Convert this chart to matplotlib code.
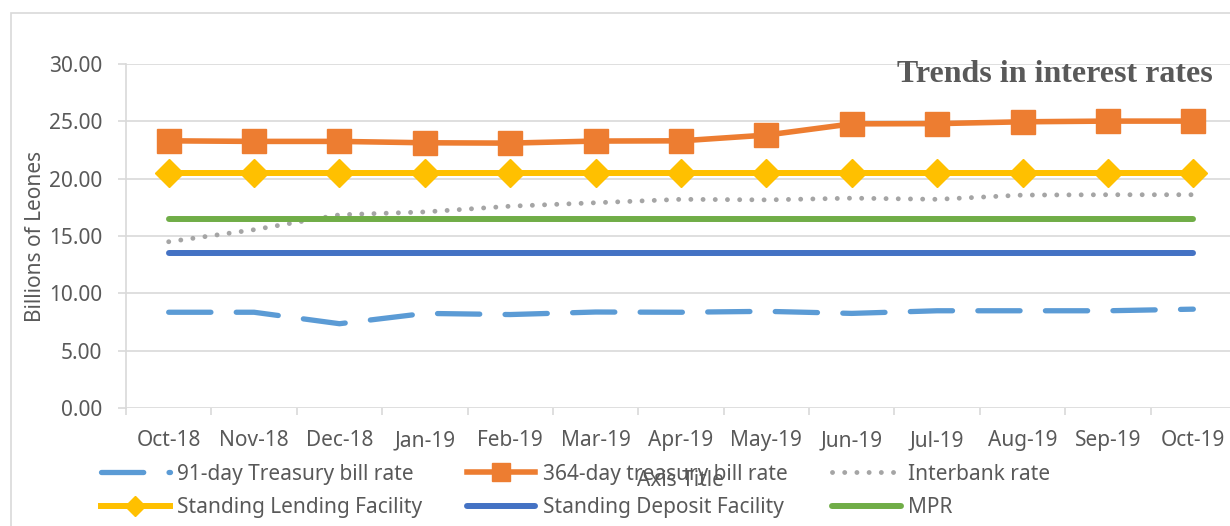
import matplotlib
matplotlib.use("Agg")
import matplotlib.pyplot as plt
from matplotlib.patches import Rectangle

months = ["Oct-18", "Nov-18", "Dec-18", "Jan-19", "Feb-19", "Mar-19", "Apr-19",
          "May-19", "Jun-19", "Jul-19", "Aug-19", "Sep-19", "Oct-19"]
tbill_91 = [8.35, 8.35, 7.35, 8.25, 8.15, 8.37, 8.35, 8.43, 8.25, 8.48, 8.48, 8.48, 8.62]
tbill_364 = [23.3, 23.25, 23.25, 23.13, 23.1, 23.28, 23.3, 23.8, 24.78, 24.8, 24.96, 25.02, 25.02]
interbank = [14.5, 15.55, 16.85, 17.1, 17.6, 17.9, 18.2, 18.15, 18.3, 18.2, 18.57, 18.6, 18.6]
slf = [20.5] * 13
sdf = [13.5] * 13
mpr = [16.5] * 13
yticks = [0, 5, 10, 15, 20, 25, 30]

W, H = 1230, 526
fig = plt.figure(figsize=(W / 100, H / 100), dpi=100)
plt.rcParams['font.family'] = ['Noto Sans', 'DejaVu Sans']
gray_txt = "#595959"
grid_c = "#D9D9D9"
fs = 15

# outer chart border (top and left visible)
fig.patches.append(Rectangle((11 / W, -0.1), 1.2, 1 - 13 / H + 0.1, transform=fig.transFigure,
                             fill=False, edgecolor=grid_c, linewidth=1.2))

ax = fig.add_axes([126 / W, 1 - 408 / H, 1110 / W, (408 - 64) / H])
x = list(range(len(months)))

h1, = ax.plot(x, tbill_91, color="#5B9BD5", linewidth=3.8, dashes=(8, 4.8),
              dash_capstyle="round", solid_capstyle="round",
              label="91-day Treasury bill rate", zorder=3)
h2, = ax.plot(x, tbill_364, color="#ED7D31", linewidth=4, marker="s", markersize=17,
              label="364-day treasury bill rate", zorder=4)
h3, = ax.plot(x, interbank, color="#A5A5A5", linewidth=3.5, linestyle=(0, (0.01, 2.5)),
              dash_capstyle="round", label="Interbank rate", zorder=3)
h4, = ax.plot(x, slf, color="#FFC000", linewidth=4.3, marker="D", markersize=14,
              label="Standing Lending Facility", zorder=4)
h5, = ax.plot(x, sdf, color="#4472C4", linewidth=4.3, solid_capstyle="round",
              label="Standing Deposit Facility", zorder=3)
h6, = ax.plot(x, mpr, color="#70AD47", linewidth=4.3, solid_capstyle="round",
              label="MPR", zorder=3)

ax.set_xlim(-0.5, len(months) - 0.5)
ax.set_ylim(0, 30)
ax.set_yticks(yticks)
ax.set_yticklabels([f"{v:.2f}" for v in yticks])
ax.set_xticks(x)
ax.set_xticklabels(months)
ax.set_xticks([i - 0.5 for i in range(len(months) + 1)], minor=True)
ax.tick_params(axis="x", which="major", length=0, pad=16, labelsize=fs, labelcolor=gray_txt)
ax.tick_params(axis="x", which="minor", length=5, color=grid_c, width=1.2)
ax.tick_params(axis="y", which="major", length=6, color=grid_c, width=1.2, pad=11,
               labelsize=fs, labelcolor=gray_txt)
ax.yaxis.grid(True, color=grid_c, linewidth=1.2, zorder=0)
ax.set_axisbelow(True)
for s in ["top", "right", "bottom"]:
    ax.spines[s].set_visible(False)
ax.spines["left"].set_color(grid_c)
ax.spines["left"].set_linewidth(1.2)

ax.set_ylabel("Billions of Leones", fontsize=fs, color=gray_txt)
ax.yaxis.set_label_coords(-0.072, 0.5)
fig.text(680 / W, 1 - 481 / H, "Axis Title", fontsize=fs, color=gray_txt, ha="center", va="center")

fig.text(1213 / W, 1 - 75 / H, "Trends in interest rates", fontsize=23, fontweight="bold",
         family="Liberation Serif", color=gray_txt, ha="right", va="center")

handles = [h1, h4, h2, h5, h3, h6]
leg = fig.legend(handles=handles, labels=[h.get_label() for h in handles],
                 loc="upper left", bbox_to_anchor=(82 / W, 1 - 445 / H), ncol=3,
                 frameon=False, fontsize=fs, handlelength=3.3, handletextpad=0.35,
                 columnspacing=2.15, labelspacing=0.6, markerscale=0.75)
for t in leg.get_texts():
    t.set_color(gray_txt)

fig.savefig("out.png", dpi=100)
